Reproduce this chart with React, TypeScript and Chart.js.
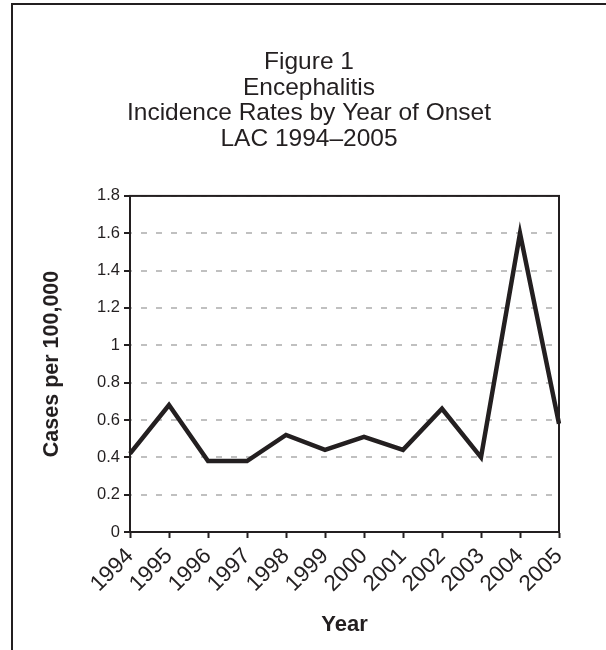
import React, { useEffect, useRef } from "react";
import { Chart, registerables } from "chart.js";

Chart.register(...registerables);

const years = ["1994", "1995", "1996", "1997", "1998", "1999", "2000", "2001", "2002", "2003", "2004", "2005"];
const rates = [0.42, 0.68, 0.38, 0.38, 0.52, 0.44, 0.51, 0.44, 0.66, 0.40, 1.60, 0.58];
const titleLines = ["Figure 1", "Encephalitis", "Incidence Rates by Year of Onset", "LAC 1994\u20132005"];
const yAxisTitle = "Cases per 100,000";
const xAxisTitle = "Year";

const FONT = "'Liberation Sans', Arial, Helvetica, sans-serif";
const INK = "#231f20";

const framePlugin = {
  id: "frame",
  afterLayout(chart: any) {
    const t = chart.titleBlock;
    if (t) {
      t.left = 12;
      t.right = chart.width;
      t.width = chart.width - 12;
    }
  },
  beforeDraw(chart: any) {
    const ctx = chart.ctx;
    ctx.save();
    ctx.strokeStyle = INK;
    ctx.lineWidth = 2;
    ctx.beginPath();
    ctx.moveTo(12, chart.height);
    ctx.lineTo(12, 4);
    ctx.lineTo(chart.width, 4);
    ctx.stroke();
    ctx.restore();
  },
  afterDatasetsDraw(chart: any) {
    const { left, top, right, bottom } = chart.chartArea;
    const ctx = chart.ctx;
    ctx.save();
    ctx.strokeStyle = INK;
    ctx.lineWidth = 2;
    ctx.strokeRect(left, top, right - left, bottom - top);
    ctx.restore();
  },
};

export default function App() {
  const ref = useRef<HTMLCanvasElement | null>(null);
  useEffect(() => {
    if (!ref.current) return;
    const chart = new Chart(ref.current, {
      type: "line",
      data: {
        labels: years,
        datasets: [
          {
            data: rates,
            borderColor: INK,
            borderWidth: 4.5,
            pointRadius: 0,
            tension: 0,
            borderJoinStyle: "miter",
            fill: false,
          },
        ],
      },
      options: {
        animation: false,
        responsive: false,
        events: [],
        layout: { padding: { left: 12, right: 47, top: 0, bottom: 0 } },
        plugins: {
          legend: { display: false },
          tooltip: { enabled: false },
          title: {
            display: true,
            text: titleLines,
            color: INK,
            font: { family: FONT, size: 24.5, weight: "normal", lineHeight: 1.04 },
            padding: { top: 50, bottom: 44 },
          },
        },
        scales: {
          x: {
            type: "category",
            offset: false,
            afterFit(scale: any) {
              scale.height = 118;
            },
            grid: {
              display: true,
              drawOnChartArea: false,
              drawTicks: true,
              tickLength: 6,
              tickWidth: 2,
              tickColor: INK,
              color: "rgba(0,0,0,0)",
            },
            border: { display: true, color: INK, width: 2 },
            ticks: {
              autoSkip: false,
              maxRotation: 45,
              minRotation: 45,
              padding: 5,
              color: INK,
              font: { family: FONT, size: 22.5 },
            },
            title: {
              display: true,
              text: xAxisTitle,
              color: INK,
              font: { family: FONT, size: 22, weight: "bold" },
              padding: { top: 0, bottom: 12 },
            },
          },
          y: {
            min: 0,
            max: 1.8,
            afterFit(scale: any) {
              scale.width = 118;
            },
            grid: {
              display: true,
              drawOnChartArea: true,
              drawTicks: true,
              color: "#c0c0c0",
              lineWidth: 2,
              tickLength: 6,
              tickWidth: 2,
              tickColor: INK,
            },
            border: { display: true, color: INK, width: 2, dash: [6, 9], dashOffset: -10 },
            ticks: {
              stepSize: 0.2,
              padding: 4,
              color: INK,
              font: { family: FONT, size: 16.5 },
              callback: (v: any) => String(Math.round(Number(v) * 10) / 10),
            },
            title: {
              display: true,
              text: yAxisTitle,
              color: INK,
              font: { family: FONT, size: 21.5, weight: "bold" },
              padding: { top: 27, bottom: 27 },
            },
          },
        },
      },
      plugins: [framePlugin],
    });
    return () => chart.destroy();
  }, []);
  return (
    <div style={{ position: "fixed", left: 0, top: 0, width: 606, height: 650, background: "#fff" }}>
      <canvas ref={ref} width={606} height={650} style={{ display: "block", width: 606, height: 650 }} />
    </div>
  );
}
